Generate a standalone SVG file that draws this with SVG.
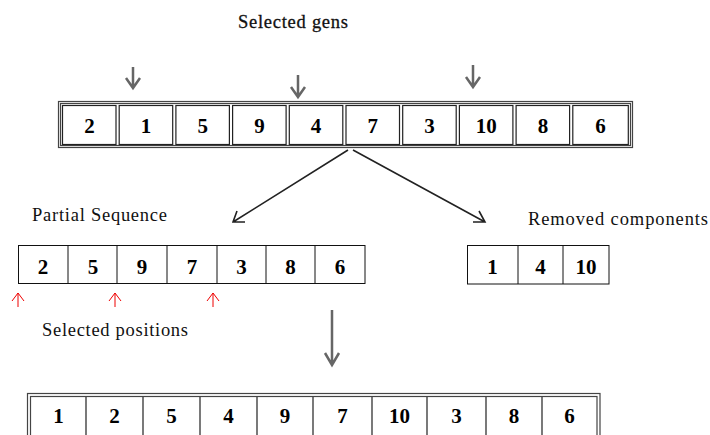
<svg xmlns="http://www.w3.org/2000/svg" width="710" height="435" viewBox="0 0 710 435">
<defs>
<style>
.lbl{font-family:"Liberation Serif","Times New Roman",serif;font-size:18.5px;fill:#111}
.d{font-family:"Liberation Serif","Times New Roman",serif;font-size:21px;font-weight:bold;fill:#000;text-anchor:middle}
.cell{fill:#fff;stroke:#222;stroke-width:1.2}
.frame{fill:none;stroke:#444;stroke-width:1.2}
.plain{fill:#fff;stroke:#111;stroke-width:1}
.garrow{fill:none;stroke:#666;stroke-width:2.5}
.rarrow{fill:none;stroke:#e00;stroke-width:1}
.karrow{fill:none;stroke:#222;stroke-width:1.6}
</style>
</defs>
<rect width="710" height="435" fill="#fff"/>

<g id="label-selected-gens"><text class="lbl" x="238" y="28" textLength="110" style="stroke:#111;stroke-width:0.3">Selected gens</text></g>

<g id="gene-pointers">
<path class="garrow" d="M133,67 V88 M126,78 L133,88 L140,78"/>
<path class="garrow" d="M298,75 V97 M291,87 L298,97 L305,87"/>
<path class="garrow" d="M473,65 V87 M466,77 L473,87 L480,77"/>
</g>

<g id="original-sequence">
<rect class="frame" x="58.5" y="101.5" width="574" height="46"/>
<rect class="frame" x="60.5" y="103.5" width="570" height="42"/>
<rect class="cell" x="62.5" y="105.5" width="53.5" height="39"/>
<rect class="cell" x="119.2" y="105.5" width="53.5" height="39"/>
<rect class="cell" x="175.9" y="105.5" width="53.5" height="39"/>
<rect class="cell" x="232.6" y="105.5" width="53.5" height="39"/>
<rect class="cell" x="289.3" y="105.5" width="53.5" height="39"/>
<rect class="cell" x="346" y="105.5" width="53.5" height="39"/>
<rect class="cell" x="402.7" y="105.5" width="53.5" height="39"/>
<rect class="cell" x="459.4" y="105.5" width="53.5" height="39"/>
<rect class="cell" x="516.1" y="105.5" width="53.5" height="39"/>
<rect class="cell" x="572.8" y="105.5" width="55.5" height="39"/>
<text class="d" x="89.5" y="133">2</text>
<text class="d" x="146" y="133">1</text>
<text class="d" x="202.7" y="133">5</text>
<text class="d" x="259.4" y="133">9</text>
<text class="d" x="316" y="133">4</text>
<text class="d" x="372.8" y="133">7</text>
<text class="d" x="429.5" y="133">3</text>
<text class="d" x="486.2" y="133">10</text>
<text class="d" x="542.9" y="133">8</text>
<text class="d" x="600.5" y="133">6</text>
</g>

<g id="connectors">
<path class="karrow" d="M348,150 L233,222 M237,211 L233,222 L245,222"/>
<path class="karrow" d="M353,150 L485,222 M473,222 L485,222 L479,211"/>
<path class="garrow" d="M332,310 V365 M325,353 L332,365 L339,353"/>
</g>

<g id="label-partial"><text class="lbl" x="32" y="221" textLength="135">Partial Sequence</text></g>

<g id="partial-sequence">
<rect class="plain" x="18.5" y="245.5" width="346.5" height="38"/>
<path stroke="#111" stroke-width="1" d="M68,245.5 V283.5 M117,245.5 V283.5 M167,245.5 V283.5 M217,245.5 V283.5 M266,245.5 V283.5 M315,245.5 V283.5"/>
<text class="d" x="43" y="274">2</text>
<text class="d" x="93" y="274">5</text>
<text class="d" x="142" y="274">9</text>
<text class="d" x="192" y="274">7</text>
<text class="d" x="241.5" y="274">3</text>
<text class="d" x="290.5" y="274">8</text>
<text class="d" x="340" y="274">6</text>
</g>

<g id="position-markers">
<path class="rarrow" d="M18,307 V293 M12,301 L18,293 L24,301"/>
<path class="rarrow" d="M115,307 V293 M109,301 L115,293 L121,301"/>
<path class="rarrow" d="M213,307 V293 M207,301 L213,293 L219,301"/>
</g>

<g id="label-positions"><text class="lbl" x="42" y="336" textLength="146">Selected positions</text></g>

<g id="label-removed"><text class="lbl" x="528" y="225" textLength="180">Removed components</text></g>

<g id="removed-components">
<rect class="plain" x="467.5" y="245.5" width="141.5" height="38.5"/>
<path stroke="#111" stroke-width="1" d="M518,245.5 V284 M563,245.5 V284"/>
<text class="d" x="492.5" y="274">1</text>
<text class="d" x="540.5" y="274">4</text>
<text class="d" x="586" y="274">10</text>
</g>

<g id="result-sequence">
<rect class="frame" x="27.5" y="393.5" width="572.5" height="50"/>
<rect class="frame" x="30.5" y="396.5" width="566.5" height="50"/>
<path stroke="#222" stroke-width="1.2" d="M86,397 V440 M143,397 V440 M200,397 V440 M257,397 V440 M313,397 V440 M372,397 V440 M427,397 V440 M486,397 V440 M542,397 V440"/>
<text class="d" x="58.5" y="423">1</text>
<text class="d" x="114.5" y="423">2</text>
<text class="d" x="171.5" y="423">5</text>
<text class="d" x="228.5" y="423">4</text>
<text class="d" x="285" y="423">9</text>
<text class="d" x="342.5" y="423">7</text>
<text class="d" x="399.5" y="423">10</text>
<text class="d" x="456.5" y="423">3</text>
<text class="d" x="514" y="423">8</text>
<text class="d" x="569.5" y="423">6</text>
</g>
</svg>
